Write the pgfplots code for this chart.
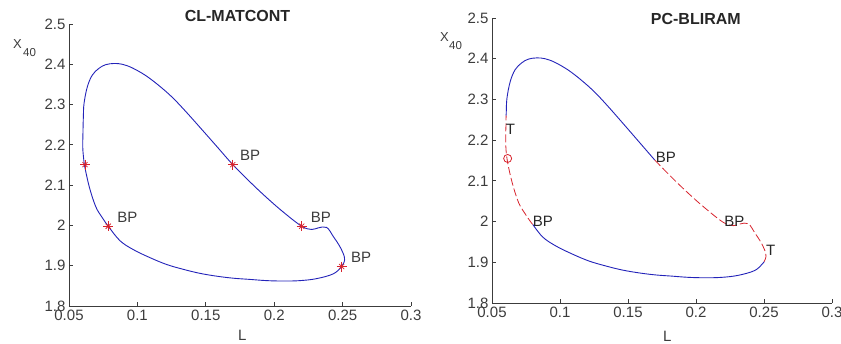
\documentclass[border=0pt]{standalone}
\usepackage{pgfplots}
\pgfplotsset{compat=1.18}
\usepackage{pgfplotstable}
\usepackage{fontspec}
\setmainfont{Liberation Sans}
\definecolor{mblue}{RGB}{35,35,185}
\definecolor{mred}{RGB}{215,35,45}
\definecolor{axgray}{RGB}{60,60,60}

\pgfplotstableread{
x y
0.0612 2.151
0.0601 2.190
0.0602 2.229
0.0605 2.270
0.0610 2.303
0.0634 2.344
0.0670 2.373
0.0719 2.390
0.0768 2.399
0.0829 2.402
0.0890 2.400
0.0963 2.391
0.1061 2.372
0.1158 2.347
0.1255 2.318
0.1353 2.283
0.1474 2.237
0.1596 2.190
0.1697 2.151
0.1823 2.108
0.1945 2.069
0.2067 2.033
0.2201 1.998
0.2274 1.990
0.2323 1.994
0.2384 1.995
0.2433 1.972
0.2481 1.947
0.2513 1.922
0.2510 1.908
0.2493 1.898
0.2433 1.880
0.2311 1.868
0.2189 1.863
0.2067 1.862
0.1945 1.863
0.1823 1.866
0.1701 1.869
0.1580 1.874
0.1458 1.881
0.1336 1.891
0.1214 1.903
0.1092 1.920
0.0970 1.940
0.0873 1.962
0.0787 1.998
0.0740 2.021
0.0695 2.047
0.0648 2.096
0.0612 2.151
}\loopdata

\pgfplotstableread{
x y
0.0604 2.260
0.0605 2.270
0.0610 2.303
0.0634 2.344
0.0670 2.373
0.0719 2.390
0.0768 2.399
0.0829 2.402
0.0890 2.400
0.0963 2.391
0.1061 2.372
0.1158 2.347
0.1255 2.318
0.1353 2.283
0.1474 2.237
0.1596 2.190
0.1697 2.151
}\blueA

\pgfplotstableread{
x y
0.1697 2.151
0.1823 2.108
0.1945 2.069
0.2067 2.033
0.2201 1.998
0.2274 1.990
0.2323 1.994
0.2384 1.995
0.2433 1.972
0.2481 1.947
0.2513 1.922
0.2510 1.908
0.2496 1.900
}\redB

\pgfplotstableread{
x y
0.2496 1.900
0.2493 1.898
0.2433 1.880
0.2311 1.868
0.2189 1.863
0.2067 1.862
0.1945 1.863
0.1823 1.866
0.1701 1.869
0.1580 1.874
0.1458 1.881
0.1336 1.891
0.1214 1.903
0.1092 1.920
0.0970 1.940
0.0873 1.962
0.0800 1.993
}\blueC

\pgfplotstableread{
x y
0.0800 1.993
0.0787 1.998
0.0740 2.021
0.0695 2.047
0.0648 2.096
0.0612 2.151
0.0601 2.190
0.0602 2.229
0.0604 2.260
}\redD

\pgfplotsset{mstyle/.style={
  scale only axis, clip=false,
  axis x line=bottom, axis y line=left,
  axis line style={-, axgray, line width=0.8pt},
  xmin=0.05, xmax=0.3, ymin=1.8, ymax=2.5,
  xtick={0.05,0.1,0.15,0.2,0.25,0.3},
  xticklabels={0.05,0.1,0.15,0.2,0.25,0.3},
  ytick={1.8,1.9,2.0,2.1,2.2,2.3,2.4,2.5},
  yticklabels={1.8,1.9,2,2.1,2.2,2.3,2.4,2.5},
  tick align=inside, major tick length=4pt,
  tick style={axgray, line width=0.8pt},
  ticklabel style={font=\fontsize{15}{15}\selectfont, text=axgray},
  /pgf/number format/assume math mode=true,
}}

\begin{document}
\begin{tikzpicture}[x=1pt,y=1pt]
\useasboundingbox (0,0) rectangle (841,343);
\clip (0,0) rectangle (841,343);

% ---------- left panel ----------
\begin{axis}[mstyle, at={(69pt,37pt)}, anchor=south west, width=342pt, height=282pt]
\addplot[mblue, line width=0.9pt, smooth, tension=0.6] table {\loopdata};
\addplot[mred, only marks, mark=+, mark size=5pt, mark options={line width=0.8pt}] coordinates {(0.0617,2.151) (0.0787,1.998) (0.1697,2.151) (0.2201,1.998) (0.2493,1.898)};
\addplot[mred, only marks, mark=x, mark size=3.6pt, mark options={line width=0.8pt}] coordinates {(0.0617,2.151) (0.0787,1.998) (0.1697,2.151) (0.2201,1.998) (0.2493,1.898)};
\begin{scope}[every node/.style={anchor=west, inner sep=0pt, font=\fontsize{15}{15}\selectfont, text=axgray}]
\node at (axis cs:0.1750,2.1736) {BP};
\node at (axis cs:0.0853,2.0204) {BP};
\node at (axis cs:0.2267,2.0204) {BP};
\node at (axis cs:0.2561,1.9204) {BP};
\end{scope}
\end{axis}

% ---------- right panel ----------
\begin{axis}[mstyle, at={(492pt,40pt)}, anchor=south west, width=340pt, height=285pt]
\addplot[mblue, line width=0.9pt, smooth, tension=0.6] table {\blueA};
\addplot[mblue, line width=0.9pt, smooth, tension=0.6] table {\blueC};
\addplot[mred, line width=0.8pt, smooth, tension=0.6, dash pattern=on 8pt off 3pt] table {\redB};
\addplot[mred, line width=0.8pt, smooth, tension=0.6, dash pattern=on 8pt off 3pt] table {\redD};
\addplot[mred, only marks, mark=o, mark size=4pt, mark options={line width=0.8pt}] coordinates {(0.0615,2.155)};
\begin{scope}[every node/.style={anchor=west, inner sep=0pt, font=\fontsize{15}{15}\selectfont, text=black!85}]
\node at (axis cs:0.0601,2.2269) {T};
\node at (axis cs:0.1704,2.1566) {BP};
\node at (axis cs:0.0799,2.0009) {BP};
\node at (axis cs:0.2208,2.0009) {BP};
\node at (axis cs:0.2515,1.9294) {T};
\end{scope}
\end{axis}

% ---------- titles and labels ----------
\node[anchor=base, inner sep=0pt, font=\bfseries\fontsize{16}{16}\selectfont, text=black!85] at (237.5,321.3) {CL-MATCONT};
\node[anchor=base, inner sep=0pt, font=\bfseries\fontsize{16}{16}\selectfont, text=black!85] at (695.8,318.7) {PC-BLIRAM};

\node[anchor=base west, inner sep=0pt, font=\fontsize{13}{13}\selectfont, text=axgray] at (13,294) {X};
\node[anchor=base west, inner sep=0pt, font=\fontsize{11.5}{11.5}\selectfont, text=axgray] at (23,286) {40};
\node[anchor=base west, inner sep=0pt, font=\fontsize{13}{13}\selectfont, text=axgray] at (440,301) {X};
\node[anchor=base west, inner sep=0pt, font=\fontsize{11.5}{11.5}\selectfont, text=axgray] at (449,293) {40};

\node[anchor=base west, inner sep=0pt, font=\fontsize{15}{15}\selectfont, text=axgray] at (238,3) {L};
\node[anchor=base west, inner sep=0pt, font=\fontsize{15}{15}\selectfont, text=axgray] at (663,2) {L};
\end{tikzpicture}
\end{document}
